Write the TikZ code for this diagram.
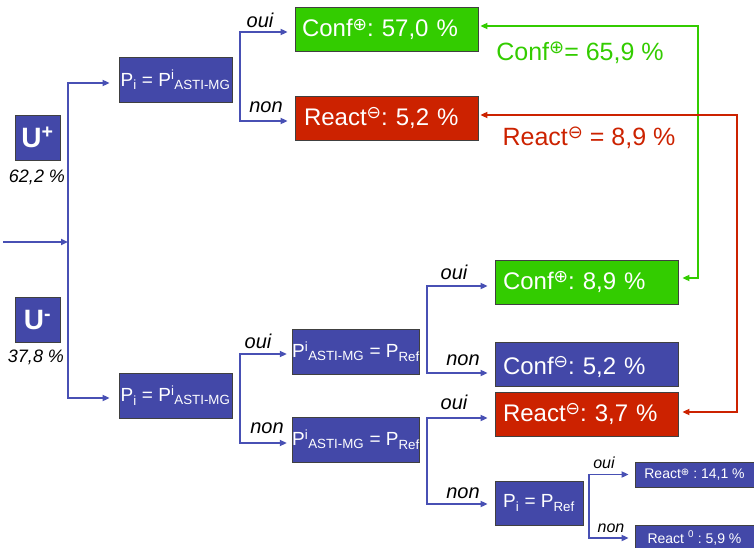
\documentclass[tikz,border=0pt]{standalone}
\usepackage{graphicx}
\usepackage{fontspec}
\setmainfont{Liberation Sans}
\newfontfamily\dvs{DejaVu Sans}
\usetikzlibrary{arrows.meta}
\definecolor{boxblue}{RGB}{67,72,168}
\definecolor{lineblue}{RGB}{72,80,180}
\definecolor{cgreen}{RGB}{51,204,0}
\definecolor{cred}{RGB}{204,34,0}
\newcommand\opl{\raisebox{0.26em}{\scalebox{0.72}{\dvs ⊕}}}
\newcommand\omi{\raisebox{0.26em}{\scalebox{0.72}{\dvs ⊖}}}
\begin{document}
\frenchspacing
\begin{tikzpicture}[x=1pt,y=-1pt,
  bx/.style={draw=black!75, line width=0.8pt, text=white, inner sep=0pt, fill=boxblue},
  big/.style={bx, minimum height=44pt, text width=167pt, inner xsep=8pt, align=left, font=\fontsize{24}{24}\selectfont},
  mid/.style={bx, minimum height=45pt, font=\fontsize{19}{19}\selectfont},
  small/.style={bx, minimum width=119pt, font=\fontsize{14}{14}\selectfont},
  ubox/.style={bx, minimum width=45pt, minimum height=45pt, font=\fontsize{28}{28}\selectfont\bfseries},
  pct/.style={font=\fontsize{18}{18}\selectfont\itshape},
  yn/.style={font=\fontsize{20}{20}\selectfont\itshape, inner sep=0pt},
  yns/.style={font=\fontsize{16}{16}\selectfont\itshape, inner sep=0pt},
  arr/.style={draw=lineblue, line width=1.8pt, -{Triangle[length=7pt,width=6pt]}},
  fb/.style={line width=1.8pt, {Triangle[length=7pt,width=6pt]}-{Triangle[length=7pt,width=6pt]}},
]
\useasboundingbox (0,0) rectangle (754,548);

% boxes
\node[ubox] (Up) at (37.5,137.5) {U\textsuperscript{+}};
\node[pct] (pUp) at (37,177) {62,2 \%};
\node[ubox] (Um) at (37.5,320) {U\textsuperscript{-}};
\node[pct] (pUm) at (36,357) {37,8 \%};

\node[mid, minimum width=113pt] (P1) at (175.5,80) {P\textsubscript{i} = P\textsuperscript{i}\textsubscript{ASTI-MG}};
\node[mid, minimum width=113pt] (P2) at (175.5,395.5) {P\textsubscript{i} = P\textsuperscript{i}\textsubscript{ASTI-MG}};

\node[big, fill=cgreen, inner xsep=7pt, text width=169pt] (C1) at (386.5,29.5) {Conf\opl: 57,0 \%};
\node[big, fill=cred, inner xsep=9pt, text width=165pt] (R1) at (386.5,118) {React\omi: 5,2 \%};

\node[mid, minimum width=126pt] (Q1) at (356,351.5) {P\textsuperscript{i}\textsubscript{ASTI-MG} = P\textsubscript{Ref}};
\node[mid, minimum width=126pt] (Q2) at (356,439.5) {P\textsuperscript{i}\textsubscript{ASTI-MG} = P\textsubscript{Ref}};

\node[big, fill=cgreen] (C2) at (586.5,282) {Conf\opl: 8,9 \%};
\node[big, text height=25pt, text depth=5pt] (C3) at (586.5,364) {Conf\omi: 5,2 \%};
\node[big, fill=cred] (R2) at (586.5,414) {React\omi: 3,7 \%};

\node[mid, minimum width=88pt, minimum height=44pt] (P3) at (539,503) {P\textsubscript{i} = P\textsubscript{Ref}};

\node[small, minimum height=25pt] (S1) at (694.5,474.5) {React\opl\ : 14,1 \%};
\node[small, minimum height=26pt] (S2) at (694.5,538) {React \textsuperscript{0} : 5,9 \%};

% feedback labels
\node[font=\fontsize{25}{25}\selectfont, text=cgreen] (lg) at (580,53) {Conf\opl= 65,9 \%};
\node[font=\fontsize{25}{25}\selectfont, text=cred] (lr) at (589,138) {React\omi\ = 8,9 \%};

% oui / non
\node[yn] (o1) at (260,20) {oui};
\node[yn] (n1) at (266,107) {non};
\node[yn] (o2) at (258,341) {oui};
\node[yn] (n2) at (267,428) {non};
\node[yn] (o3) at (454,272) {oui};
\node[yn] (n3) at (463,360) {non};
\node[yn] (o4) at (454,402) {oui};
\node[yn] (n4) at (463,493) {non};
\node[yns] (o5) at (604,463) {oui};
\node[yns] (n5) at (611,528) {non};

% trunk
\coordinate (in) at (3,242);
\coordinate (j) at (68,242);
\draw[arr] (in) -- (j);
\draw[arr, shorten >=9pt] (j) |- ([yshift=-3pt]P1.west);
\draw[arr, shorten >=9pt] (j) |- ([yshift=-2.5pt]P2.west);

% branches
\coordinate (b1) at (240,80);
\draw[arr, shorten >=7pt] (b1) |- ([yshift=-2.5pt]C1.west);
\draw[arr, shorten >=7pt] (b1) |- ([yshift=-3pt]R1.west);

\coordinate (b2) at (240,395);
\draw[arr, shorten >=5pt] (b2) |- ([yshift=-2.5pt]Q1.west);
\draw[arr, shorten >=5pt] (b2) |- ([yshift=-3.5pt]Q2.west);

\coordinate (b3) at (427,330);
\draw[arr, shorten >=7pt] (b3) |- ([yshift=-4pt]C2.west);
\draw[arr, shorten >=7pt] (b3) |- ([yshift=-9pt]C3.west);

\coordinate (b4) at (427,460);
\draw[arr, shorten >=7pt] (b4) |- ([yshift=-4pt]R2.west);
\draw[arr, shorten >=7pt] (b4) |- ([yshift=-1pt]P3.west);

\coordinate (b5) at (589,505);
\draw[arr, shorten >=6pt] (b5) |- (S1.west);
\draw[arr, shorten >=6pt] (b5) |- (S2.west);

% feedback arrows
\coordinate (gx) at (698,0);
\coordinate (g1) at ([yshift=3.5pt]C1.east);
\coordinate (g2) at ([yshift=4pt]C2.east);
\draw[fb, draw=cgreen, shorten <=2pt, shorten >=4pt] (g1) -- (g1 -| gx) -- (g2 -| gx) -- (g2);

\coordinate (rx) at (737,0);
\coordinate (r1) at ([yshift=3pt]R1.east);
\coordinate (r2) at ([yshift=2pt]R2.east);
\draw[fb, draw=cred, shorten <=2pt, shorten >=4pt] (r1) -- (r1 -| rx) -- (r2 -| rx) -- (r2);
\end{tikzpicture}
\end{document}
